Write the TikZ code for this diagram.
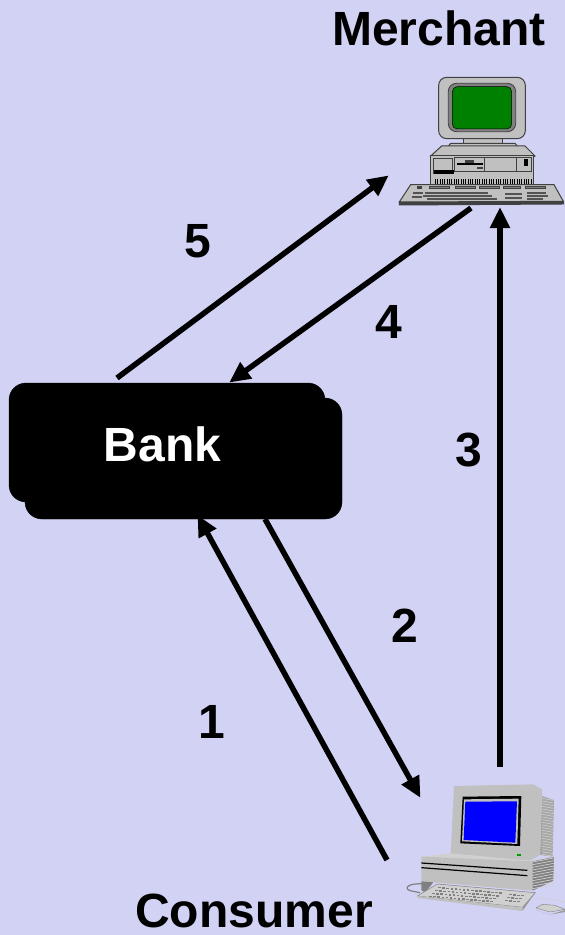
\documentclass[tikz,border=0pt]{standalone}
\usepackage{fontspec}
\setmainfont{Liberation Sans}
\usetikzlibrary{arrows.meta}
\definecolor{bgc}{HTML}{D2D2F5}
\definecolor{gA}{HTML}{C0C0C0}
\definecolor{gB}{HTML}{808080}
\definecolor{gC}{HTML}{404040}
\definecolor{gD}{HTML}{D0D0D0}
\tikzset{
  lab/.style={font=\fontsize{48}{48}\selectfont\bfseries,inner sep=0pt,text=black},
  conn/.style={line width=5.5pt,-{Triangle[length=21pt,width=19pt]},shorten >=-1pt},
  bankbox/.style={fill=black,draw=black,rounded corners=17pt},
  mz/.style={shift={(380,60)},x=0.3333pt,y=-0.3333pt},
  cz/.style={shift={(380,760)},x=0.3333pt,y=-0.3333pt},
  edge/.style={draw=gC,line width=1pt},
}
\begin{document}
\begin{tikzpicture}[x=1pt,y=-1pt]
\useasboundingbox (0,0) rectangle (565,935);
\fill[bgc] (0,0) rectangle (565,935);
% Bank
\fill[bankbox] (25,398) rectangle (342,519);
\fill[bankbox] (9,383) rectangle (325,502);
\node[lab,text=white] (bank) at (162.5,444) {Bank};
\coordinate (bankOutTop) at (117,378);
\coordinate (bankInTop) at (230,382);
\coordinate (bankOutBot) at (265,519);
\coordinate (bankInBot) at (198,516);
% Labels
\node[lab] (merchant) at (439,28) {Merchant};
\node[lab] (consumer) at (254,911) {Consumer};
\node[lab] (n5) at (198,241) {5};
\node[lab] (n4) at (389,322) {4};
\node[lab] (n3) at (469,450) {3};
\node[lab] (n2) at (405,626) {2};
\node[lab] (n1) at (212,722) {1};
% Merchant computer
\begin{scope}[mz]
  \filldraw[fill=gA,edge] (252,225) rectangle (368,262);
  \filldraw[fill=gA,edge] (202,262) -- (212,250) -- (405,250) -- (415,262) -- (415,272) -- (202,272) -- cycle;
  \filldraw[fill=gA,edge,rounded corners=8pt] (176,52) rectangle (436,236);
  \fill[gB,rounded corners=8pt] (205,70) rectangle (407,215);
  \draw[gC,line width=0.8pt,rounded corners=8pt] (205,70) rectangle (407,215);
  \fill[green!50!black,rounded corners=5pt] (217,80) rectangle (395,207);
  \draw[black,line width=0.5pt,rounded corners=5pt] (217,80) rectangle (395,207);
  \filldraw[fill=gA,edge] (152,288) -- (185,258) -- (435,258) -- (465,288) -- cycle;
  \fill[gC] (152,285) rectangle (465,290);
  \filldraw[fill=gA,edge] (152,288) rectangle (462,376);
  \draw[edge] (160,296) rectangle (218,340);
  \draw[edge] (225,294) rectangle (315,334);
  \draw[edge] (315,294) rectangle (410,336);
  \draw[edge] (410,294) rectangle (455,336);
  \fill[black] (232,309) rectangle (308,315);
  \fill[gC] (255,300) rectangle (282,308);
  \fill[gC] (292,321) rectangle (310,327);
  \fill[black] (431,297) rectangle (445,318);
  \fill[black] (162,330) rectangle (222,342);
  \foreach \q in {165,172,...,458} \fill[black] (\q,358) rectangle +(3.5,14);
  \filldraw[fill=gC,edge] (58,426) -- (58,435) -- (550,432) -- (550,424) -- cycle;
  \filldraw[fill=gA,edge] (58,426) -- (92,374) -- (522,374) -- (550,424) -- cycle;
  \foreach \a/\b in {150/210,228/288,298/358,370/422,436/498}
    \filldraw[fill=gB,edge] (\a,379) rectangle (\b,387);
  \fill[gC] (112,379) rectangle (126,388);
  \foreach \a/\b/\c/\d in {135/325/396/402,130/335/405/411,140/350/414/420,375/425/398/404,375/425/411/417,440/498/396/402,440/505/405/411,440/490/414/420,100/130/396/401,95/125/408/413}
    \fill[gC!70!gB] (\a,\c) rectangle (\b,\d);
\end{scope}
\coordinate (mercIn) at (388,176);
\coordinate (mercOut) at (471,208);
\coordinate (mercBot) at (500,208);
% Consumer computer
\begin{scope}[cz]
  \fill[gB!70] (486,108) -- (522,120) -- (518,290) -- (480,285) -- cycle;
  \foreach \q in {115,123,...,285} \draw[gD,line width=0.6pt] (487,\q) -- (520,\q+6);
  \fill[gA] (222,78) -- (460,73) -- (486,88) -- (480,285) -- (450,302) -- (212,285) -- cycle;
  \fill[black] (248,110) -- (424,108) -- (420,258) -- (241,250) -- cycle;
  \fill[gA] (252,118) -- (416,116) -- (412,252) -- (246,244) -- cycle;
  \fill[blue] (256,125) -- (411,124) -- (406,248) -- (251,240) -- cycle;
  \fill[green!60!black] (411,282) rectangle (423,288);
  % base
  \fill[gD] (124,290) -- (212,280) -- (450,302) -- (522,291) -- (458,304) -- (124,292) -- cycle;
  \fill[gA] (124,290) -- (458,304) -- (458,392) -- (124,364) -- cycle;
  \fill[gB] (458,304) -- (522,291) -- (520,362) -- (458,392) -- cycle;
  \foreach \q in {306,314,...,386} \draw[gD,line width=0.7pt] (458,\q) -- (522,\q-12);
  \draw[black,line width=1.2pt] (124,309) -- (442,331);
  \draw[black,line width=1.2pt] (124,323) -- (442,347);
  \fill[gB] (124,364) -- (160,367) -- (135,398) -- (124,390) -- cycle;
  % cable
  \draw[gB,line width=1.2pt] (130,372) .. controls (85,368) and (70,385) .. (90,392) -- (120,398);
  % keyboard
  \fill[gB!60!gA] (112,410) -- (428,452) -- (466,398) -- (440,430) -- cycle;
  \filldraw[fill=gD,draw=gB,line width=0.5pt] (112,408) -- (172,372) -- (466,398) -- (428,442) -- cycle;
  \fill[gA] (112,408) -- (428,442) -- (428,453) -- (112,414) -- cycle;
  \foreach \r in {0,1,2,3}
    \foreach \c in {0,1,...,15}
      \fill[gB] ({175+\c*12.2-\r*9},{381+\r*8.6+\c*1.05}) rectangle +(8,4.5);
  \foreach \r in {0,1,2}
    \foreach \c in {0,1,2,3}
      \fill[gB] ({388+\c*12-\r*6},{402+\r*9+\c*1}) rectangle +(8,4.5);
  % mouse
  \draw[gD,line width=0.7pt] (475,412) .. controls (500,420) and (530,420) .. (555,425);
  \fill[gB!60!gA] (468,450) -- (510,464) -- (555,450) -- (555,456) -- (510,464) -- cycle;
  \filldraw[fill=gD,draw=gB,line width=0.4pt] (468,444) -- (488,433) -- (525,436) -- (555,448) -- (510,456) -- cycle;
\end{scope}
\coordinate (consIn) at (420,797);
\coordinate (consOut) at (387,860);
\coordinate (consTop) at (500,767);
% Connectors
\draw[conn] (bankOutTop) -- (mercIn);
\draw[conn] (mercOut) -- (bankInTop);
\draw[conn] (consTop) -- (mercBot);
\draw[conn] (bankOutBot) -- (consIn);
\draw[conn] (consOut) -- (bankInBot);
\end{tikzpicture}
\end{document}
